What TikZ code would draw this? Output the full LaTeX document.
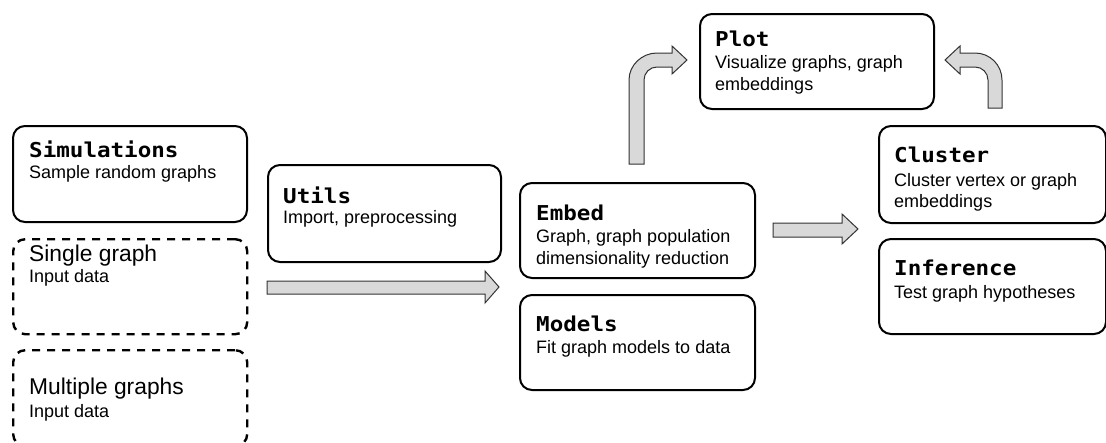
\documentclass[tikz,border=0pt]{standalone}
\usepackage{fontspec}
\setmainfont{Liberation Sans}
\newfontfamily\titlefont[FakeStretch=1.1]{DejaVu Sans Mono}
\definecolor{arrowgray}{HTML}{D9D9D9}
\definecolor{arrowline}{HTML}{333333}
\begin{document}
\begin{tikzpicture}[x=1pt,y=-1pt,
  box/.style={draw=black, line width=2pt, rounded corners=12pt, anchor=north west, inner sep=0pt},
  dbox/.style={box, line width=2.4pt, dash pattern=on 8pt off 7pt},
  ttl/.style={anchor=base west, inner sep=0pt, font=\titlefont\bfseries\fontsize{20.5}{24}\selectfont},
  txt/.style={anchor=base west, inner sep=0pt, font=\fontsize{18}{21}\selectfont},
  big/.style={anchor=base west, inner sep=0pt, font=\fontsize{22.8}{27}\selectfont},
  blockarrow/.style={fill=arrowgray, draw=arrowline, line width=1pt, line join=miter}]
\clip (0,0) rectangle (1106,442);
\useasboundingbox (0,0) rectangle (1106,442);

% boxes
\node[box, minimum width=234pt, minimum height=96pt] (sim) at (12,125) {};
\node[dbox, minimum width=234pt, minimum height=95pt] (single) at (12,238) {};
\node[dbox, minimum width=234pt, minimum height=96pt] (multi) at (12,349) {};
\node[box, minimum width=233pt, minimum height=97pt] (utils) at (267,164) {};
\node[box, minimum width=235pt, minimum height=95pt] (embed) at (519,182) {};
\node[box, minimum width=235pt, minimum height=95pt] (models) at (519,294) {};
\node[box, minimum width=234pt, minimum height=95pt] (plot) at (699,13) {};
\node[box, minimum width=227pt, minimum height=97pt] (cluster) at (878,125) {};
\node[box, minimum width=227pt, minimum height=95pt] (inference) at (878,238) {};

% texts
\node[ttl] (simT) at (29,157) {Simulations};
\node[txt] (simD) at (29,178.3) {Sample random graphs};
\node[big] (singleT) at (29,261.5) {Single graph};
\node[txt] (singleD) at (29,282.5) {Input data};
\node[big] (multiT) at (29,394) {Multiple graphs};
\node[txt] (multiD) at (29,417.3) {Input data};
\node[ttl] (utilsT) at (283,203.3) {Utils};
\node[txt] (utilsD) at (283,223.8) {Import, preprocessing};
\node[ttl] (embedT) at (536,220) {Embed};
\node[txt] (embedD1) at (536,242.7) {Graph, graph population};
\node[txt] (embedD2) at (536,264.3) {dimensionality reduction};
\node[ttl] (modelsT) at (536,331.7) {Models};
\node[txt] (modelsD) at (536,353.3) {Fit graph models to data};
\node[ttl] (plotT) at (715,46.7) {Plot};
\node[txt] (plotD1) at (715,68.3) {Visualize graphs, graph};
\node[txt] (plotD2) at (715,90) {embeddings};
\node[ttl] (clusterT) at (894,162.7) {Cluster};
\node[txt] (clusterD1) at (894,186) {Cluster vertex or graph};
\node[txt] (clusterD2) at (894,207.6) {embeddings};
\node[ttl] (inferenceT) at (894,275) {Inference};
\node[txt] (inferenceD) at (894,298.3) {Test graph hypotheses};

% straight block arrows
\draw[blockarrow] (267,281) -- (485,281) -- (485,271) -- (499,287) -- (485,303) -- (485,294) -- (267,294) -- cycle;
\draw[blockarrow] (773,223) -- (842,223) -- (842,214) -- (858,229) -- (842,244) -- (842,237) -- (773,237) -- cycle;

% bent arrow embed -> plot
\draw[blockarrow] (629,164) -- (629,80) .. controls (629,65) and (642,53) .. (657,53)
  -- (672,53) -- (672,46) -- (687,60) -- (672,74) -- (672,67) -- (657,67)
  .. controls (649.8,67) and (644,72.8) .. (644,80) -- (644,164) -- cycle;

% bent arrow cluster -> plot
\draw[blockarrow] (988,108) -- (988,80) .. controls (988,72.8) and (982.2,67) .. (975,67)
  -- (960,67) -- (960,74) -- (945,60) -- (960,46) -- (960,53) -- (975,53)
  .. controls (990,53) and (1002,65) .. (1002,80) -- (1002,108) -- cycle;
\end{tikzpicture}
\end{document}
